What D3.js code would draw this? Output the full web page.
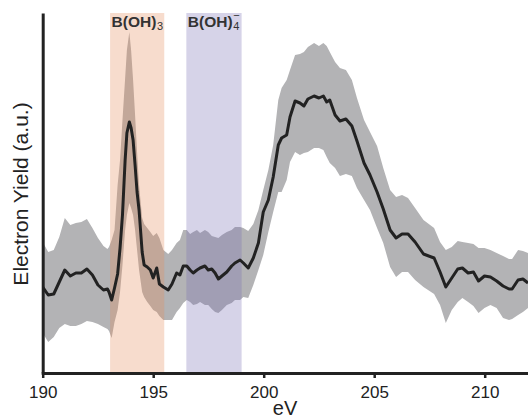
<!DOCTYPE html>
<html>
<head>
<meta charset="utf-8">
<script src="https://cdn.jsdelivr.net/npm/d3@7"></script>
<style>
  html, body { margin: 0; padding: 0; background: #fff; }
  svg { display: block; font-family: "Liberation Sans", Arial, Helvetica, sans-serif; }
</style>
</head>
<body>
<svg id="chart" width="528" height="420"></svg>
<script>
// Photon energy (eV)
const energy = [190.00,190.25,190.50,190.75,191.00,191.25,191.50,191.75,192.00,192.25,192.50,192.75,
  192.93,193.00,193.12,193.25,193.39,193.50,193.61,193.73,193.81,193.92,
  194.00,194.09,194.18,194.27,194.36,194.50,194.59,194.73,194.87,195.00,
  195.16,195.28,195.46,195.68,195.85,196.06,196.21,196.36,196.52,196.67,
  196.81,196.98,197.12,197.34,197.49,197.65,197.80,197.95,198.11,198.33,
  198.55,198.70,198.93,199.08,199.30,199.53,199.76,199.98,200.21,200.43,
  200.66,200.81,201.04,201.19,201.42,201.64,201.82,202.00,202.28,202.50,
  202.70,202.85,202.99,203.23,203.45,203.72,203.99,204.22,204.54,204.81,
  205.13,205.41,205.72,205.99,206.26,206.53,206.85,207.23,207.71,207.98,
  208.24,208.51,208.78,208.99,209.25,209.49,209.72,209.99,210.26,210.54,
  210.83,211.10,211.24,211.51,211.73,211.96];

// Mean electron yield (a.u.)
const meanYield = [0.86,0.78,0.79,0.91,1.03,0.97,1.00,1.00,1.04,0.98,0.88,0.83,
  0.84,0.81,0.73,0.85,0.99,1.25,1.58,2.13,2.40,2.51,
  2.45,2.33,2.08,1.81,1.63,1.21,1.08,1.06,1.03,0.95,
  1.05,0.89,0.86,0.83,0.89,1.00,0.98,1.07,1.07,1.03,
  1.00,1.03,1.05,1.07,1.03,1.04,1.00,0.94,0.97,1.01,
  1.07,1.10,1.13,1.10,1.05,1.15,1.30,1.61,1.73,1.96,
  2.28,2.35,2.38,2.56,2.72,2.70,2.67,2.74,2.77,2.75,
  2.77,2.71,2.73,2.58,2.52,2.54,2.47,2.32,2.10,1.98,
  1.81,1.64,1.43,1.35,1.39,1.39,1.31,1.19,1.15,1.01,
  0.86,0.95,1.04,1.05,1.00,1.01,0.92,0.97,0.96,0.92,
  0.87,0.84,0.84,0.93,0.94,0.90];

// Upper edge of the uncertainty band (a.u.)
const upperYield = [1.31,1.21,1.23,1.36,1.55,1.48,1.50,1.51,1.54,1.45,1.35,1.27,
  1.24,1.26,1.33,1.43,1.88,2.13,2.53,2.95,3.23,3.41,
  3.23,2.93,2.58,2.21,1.88,1.55,1.49,1.45,1.41,1.37,
  1.40,1.35,1.23,1.19,1.23,1.30,1.33,1.43,1.43,1.39,
  1.41,1.43,1.40,1.43,1.41,1.37,1.36,1.35,1.38,1.41,
  1.43,1.46,1.46,1.45,1.42,1.49,1.63,1.83,2.03,2.28,
  2.73,2.85,2.93,3.03,3.18,3.19,3.21,3.26,3.30,3.27,
  3.30,3.27,3.21,3.11,3.05,3.03,2.93,2.75,2.53,2.41,
  2.27,2.05,1.83,1.76,1.78,1.75,1.65,1.53,1.45,1.31,
  1.23,1.26,1.32,1.31,1.30,1.29,1.25,1.25,1.23,1.20,
  1.17,1.14,1.14,1.23,1.22,1.20];

// Lower edge of the uncertainty band (a.u.)
const lowerYield = [0.40,0.31,0.36,0.45,0.49,0.47,0.47,0.49,0.52,0.51,0.49,0.46,
  0.44,0.42,0.35,0.51,0.63,0.81,1.08,1.43,1.58,1.70,
  1.65,1.58,1.43,1.23,1.03,0.81,0.76,0.71,0.67,0.63,
  0.61,0.57,0.53,0.53,0.53,0.61,0.65,0.70,0.73,0.71,
  0.68,0.69,0.71,0.68,0.68,0.64,0.61,0.60,0.63,0.68,
  0.70,0.73,0.73,0.76,0.75,0.88,1.03,1.18,1.41,1.61,
  1.81,1.81,1.93,2.11,2.21,2.18,2.20,2.21,2.25,2.25,
  2.23,2.16,2.10,2.05,1.97,1.99,1.97,1.85,1.73,1.63,
  1.45,1.30,1.06,0.96,1.01,1.01,0.93,0.86,0.79,0.68,
  0.50,0.63,0.71,0.75,0.71,0.67,0.60,0.65,0.68,0.65,
  0.55,0.53,0.54,0.58,0.61,0.65];

const xTicks = [190, 195, 200, 205, 210];
const bandStart = [193.05, 196.5];
const bandEnd = [195.5, 199.0];
const bandMain = ["B(OH)", "B(OH)"];
const bandSub = ["3", "4"];
const bandSup = ["", "\u2212"];
const bandFill = ["rgba(230,140,90,0.3)", "rgba(120,110,180,0.3)"];

const svg = d3.select("#chart");
const x = d3.scaleLinear().domain([190, 212]).range([42.7, 528.9]);
const y = d3.scaleLinear().domain([0, 3.6]).range([373, 13]);

svg.append("defs").append("clipPath").attr("id", "plotclip")
  .append("rect").attr("x", x(190)).attr("y", 0).attr("width", 528 - x(190)).attr("height", 373);

const data = energy.map((e, i) => ({e, m: meanYield[i], u: upperYield[i], l: lowerYield[i]}));
const plot = svg.append("g").attr("clip-path", "url(#plotclip)");

plot.append("path").datum(data)
  .attr("fill", "#b3b3b5")
  .attr("d", d3.area().x(d => x(d.e)).y0(d => y(d.l)).y1(d => y(d.u)));

plot.selectAll("rect.band").data(bandStart).join("rect")
  .attr("class", "band")
  .attr("x", (d) => x(d))
  .attr("width", (d, i) => x(bandEnd[i]) - x(d))
  .attr("y", y(3.6))
  .attr("height", y(0) - y(3.6))
  .attr("fill", (d, i) => bandFill[i]);

plot.append("path").datum(data)
  .attr("fill", "none")
  .attr("stroke", "#222")
  .attr("stroke-width", 3)
  .attr("stroke-linejoin", "round")
  .attr("d", d3.line().x(d => x(d.e)).y(d => y(d.m)));

// Axes
const gx = svg.append("g").attr("transform", "translate(0,373)")
  .call(d3.axisBottom(x).tickValues(xTicks).tickSize(5).tickSizeOuter(0).tickFormat(d3.format("d")));
gx.select(".domain").attr("stroke", "#222").attr("stroke-width", 3).attr("stroke-linecap", "square");
gx.selectAll(".tick line").attr("stroke", "#222").attr("stroke-width", 2.5);
gx.selectAll(".tick text").attr("y", 25).attr("dy", 0)
  .attr("font-size", 17).attr("fill", "#222")
  .attr("font-family", "'Liberation Sans', Arial, Helvetica, sans-serif");

const gy = svg.append("g").attr("transform", `translate(${x(190)},0)`)
  .call(d3.axisLeft(y).tickValues([]).tickSizeOuter(0));
gy.select(".domain").attr("stroke", "#222").attr("stroke-width", 3);

// Axis titles
svg.append("text").attr("x", 285).attr("y", 415).attr("text-anchor", "middle")
  .attr("font-size", 20).attr("fill", "#222").text("eV");
svg.append("text").attr("transform", "translate(28,194) rotate(-90)")
  .attr("text-anchor", "middle").attr("font-size", 21).attr("fill", "#222")
  .text("Electron Yield (a.u.)");

// Band labels
bandStart.forEach((s, i) => {
  const x0 = x(s) + 1.5;
  const t = svg.append("text").attr("x", x0).attr("y", 27)
    .attr("font-size", 15.5).attr("font-weight", "bold").attr("fill", "#333")
    .text(bandMain[i]);
  const w = t.node().getComputedTextLength();
  svg.append("text").attr("x", x0 + w + 0.5).attr("y", 30)
    .attr("font-size", 11).attr("fill", "#333").text(bandSub[i]);
  if (bandSup[i]) {
    svg.append("text").attr("x", x0 + w + 0.5).attr("y", 19)
      .attr("font-size", 11).attr("fill", "#333").text(bandSup[i]);
  }
});
</script>
</body>
</html>
